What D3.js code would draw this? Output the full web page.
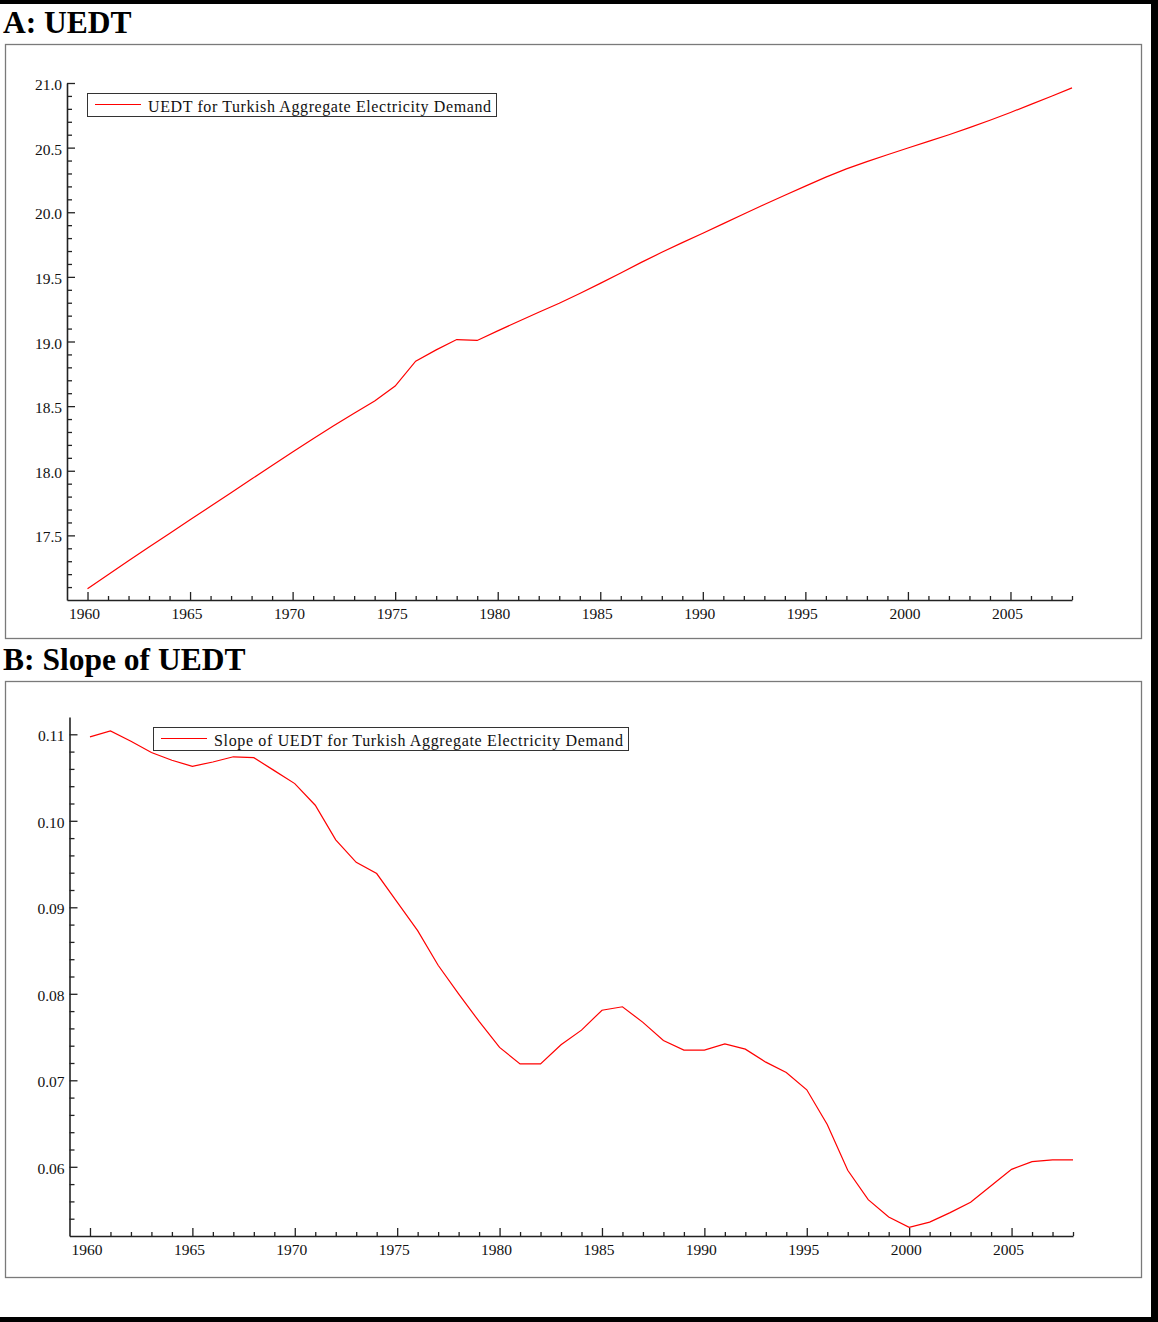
<!DOCTYPE html>
<html>
<head>
<meta charset="utf-8">
<script src="https://cdn.jsdelivr.net/npm/d3@7"></script>
<style>
  html, body { margin: 0; padding: 0; background: #fff; }
  svg { display: block; }
  text { font-family: "Liberation Serif", "Times New Roman", serif; fill: #111; }
</style>
</head>
<body>
<script>
// ---------- data ----------
const years = d3.range(1960, 2009);
const uedt = [
  17.087, 17.195, 17.303, 17.410, 17.515, 17.620, 17.725, 17.830, 17.936, 18.040,
  18.145, 18.247, 18.348, 18.445, 18.540, 18.655, 18.848, 18.935, 19.015, 19.008,
  19.082, 19.155, 19.226, 19.296, 19.372, 19.450, 19.530, 19.612, 19.690, 19.765,
  19.838, 19.912, 19.986, 20.060, 20.132, 20.202, 20.272, 20.336, 20.392, 20.445,
  20.497, 20.548, 20.600, 20.655, 20.712, 20.772, 20.835, 20.898, 20.962
];
const slope = [
  0.1097, 0.1104, 0.1092, 0.1079, 0.1070, 0.1063, 0.1068, 0.1074, 0.1073, 0.1058,
  0.1043, 0.1018, 0.0978, 0.0952, 0.0939, 0.0906, 0.0873, 0.0833, 0.0800, 0.0768,
  0.0738, 0.0719, 0.0719, 0.0741, 0.0758, 0.0781, 0.0785, 0.0767, 0.0746, 0.0735,
  0.0735, 0.0742, 0.0736, 0.0721, 0.0709, 0.0689, 0.0649, 0.0596, 0.0562, 0.0542,
  0.0530, 0.0536, 0.0547, 0.0559, 0.0578, 0.0597, 0.0606, 0.0608, 0.0608
];
const xMajorTicks = [1960, 1965, 1970, 1975, 1980, 1985, 1990, 1995, 2000, 2005];
const yMajorTicksA = [17.5, 18.0, 18.5, 19.0, 19.5, 20.0, 20.5, 21.0];
const yMajorTicksB = [0.06, 0.07, 0.08, 0.09, 0.10, 0.11];
const titleA = "A: UEDT";
const titleB = "B: Slope of UEDT";
const legendA = "UEDT for Turkish Aggregate Electricity Demand";
const legendB = "Slope of UEDT for Turkish Aggregate Electricity Demand";

// ---------- svg ----------
const W = 1158, H = 1322;
const svg = d3.select("body").append("svg").attr("width", W).attr("height", H);
svg.append("rect").attr("width", W).attr("height", H).attr("fill", "#fff");

// outer black frame pieces
svg.append("rect").attr("x", 0).attr("y", 0).attr("width", W).attr("height", 4).attr("fill", "#000");
svg.append("rect").attr("x", 1151).attr("y", 0).attr("width", 7).attr("height", H).attr("fill", "#000");
svg.append("rect").attr("x", 0).attr("y", 1317).attr("width", W).attr("height", 5).attr("fill", "#000");

function panel(cfg) {
  // frame
  svg.append("rect")
    .attr("x", cfg.box[0] + 0.5).attr("y", cfg.box[1] + 0.5)
    .attr("width", cfg.box[2] - cfg.box[0]).attr("height", cfg.box[3] - cfg.box[1])
    .attr("fill", "none").attr("stroke", "#7a7a7a").attr("stroke-width", 1.3);
  // title
  svg.append("text").attr("x", 3).attr("y", cfg.titleY)
    .style("font-size", "31.5px").style("font-weight", "bold").style("fill", "#000")
    .text(cfg.title);

  const x = d3.scaleLinear().domain([1959, 2008]).range(cfg.xRange);
  const y = d3.scaleLinear().domain(cfg.yDomain).range(cfg.yRange);
  const g = svg.append("g");

  // minor x ticks
  const xMinor = years.filter(v => !xMajorTicks.includes(v));
  g.append("g").attr("transform", `translate(0,${cfg.yRange[0]})`)
    .call(d3.axisBottom(x).tickValues(xMinor).tickSizeInner(-4).tickSizeOuter(0).tickFormat(""))
    .call(a => a.select(".domain").remove());
  // major x ticks + labels
  const gx = g.append("g").attr("transform", `translate(0,${cfg.yRange[0]})`)
    .call(d3.axisBottom(x).tickValues(xMajorTicks).tickSizeInner(-8).tickSizeOuter(0).tickFormat(d3.format("d")));
  gx.selectAll("text").attr("y", 19).attr("dy", 0).attr("dx", -3.5)
    .style("font-size", "15.5px").style("font-family", "Liberation Serif");
  // minor y ticks
  const gmy = g.append("g").attr("transform", `translate(${cfg.xRange[0]},0)`)
    .call(d3.axisLeft(y).tickValues(cfg.yMinor).tickSizeInner(-5).tickSizeOuter(0).tickFormat(""));
  gmy.select(".domain").remove();
  // major y ticks + labels
  const gy = g.append("g").attr("transform", `translate(${cfg.xRange[0]},0)`)
    .call(d3.axisLeft(y).tickValues(cfg.yMajor).tickSizeInner(-8).tickSizeOuter(0).tickFormat(cfg.fmt));
  gy.selectAll("text").attr("x", -5).attr("dy", "0.42em").style("font-size", "15.5px").style("font-family", "Liberation Serif");

  g.selectAll(".domain").attr("stroke", "#222").attr("stroke-width", 1.6);
  g.selectAll(".tick line").attr("stroke", "#222").attr("stroke-width", 1.3);

  // data line
  const line = d3.line().x((d, i) => x(years[i])).y(d => y(d));
  svg.append("path").datum(cfg.values)
    .attr("d", line).attr("fill", "none").attr("stroke", "#ff0000").attr("stroke-width", 1.2);

  // legend
  const L = cfg.legend;
  svg.append("rect").attr("x", L.x + 0.5).attr("y", L.y + 0.5).attr("width", L.w).attr("height", L.h)
    .attr("fill", "#fff").attr("stroke", "#333").attr("stroke-width", 1);
  svg.append("line").attr("x1", L.x + 8).attr("x2", L.x + 54)
    .attr("y1", L.y + 11.5).attr("y2", L.y + 11.5).attr("stroke", "#ff0000").attr("stroke-width", 1.2);
  svg.append("text").attr("x", L.x + 61).attr("y", L.y + 18.5)
    .style("font-size", "16px")
    .attr("textLength", L.tl).attr("lengthAdjust", "spacing")
    .text(L.text);
}

const minorA = d3.range(171, 210).map(v => v / 10).filter(v => !yMajorTicksA.includes(v));
const minorB = d3.range(27, 55).map(v => v / 500).filter(v => !yMajorTicksB.some(m => Math.abs(m - v) < 1e-9));

panel({
  box: [5, 44, 1141, 638],
  title: titleA, titleY: 33,
  xRange: [67, 1072],
  yDomain: [17.0, 21.0], yRange: [600, 83],
  yMajor: yMajorTicksA, yMinor: minorA, fmt: d3.format(".1f"),
  values: uedt,
  legend: { x: 87, y: 93, w: 409, h: 23, text: legendA, tl: 343 }
});

panel({
  box: [5, 681, 1141, 1277],
  title: titleB, titleY: 670,
  xRange: [69.5, 1073],
  yDomain: [0.052, 0.112], yRange: [1236, 717],
  yMajor: yMajorTicksB, yMinor: minorB, fmt: d3.format(".2f"),
  values: slope,
  legend: { x: 153, y: 727, w: 475, h: 23, text: legendB, tl: 409 }
});
</script>
</body>
</html>
